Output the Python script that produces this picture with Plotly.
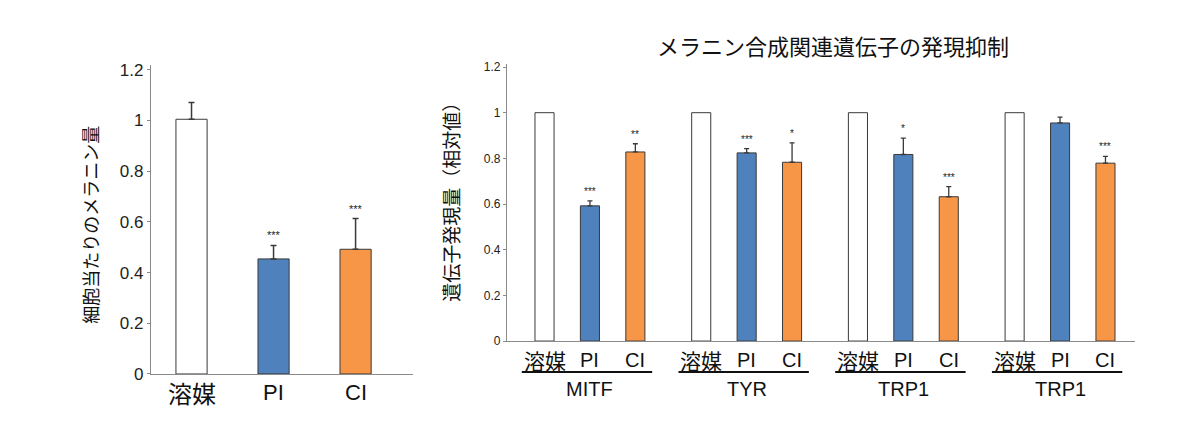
import plotly.graph_objects as go

W, H = 1200, 445

# ---------------- data ----------------
treatments = ["溶媒", "PI", "CI"]
colors = ["#FFFFFF", "#4F81BD", "#F79646"]

# left chart: melanin per cell
melanin = [1.005, 0.454, 0.492]
melanin_err = [0.066, 0.053, 0.121]
melanin_sig = ["", "***", "***"]

# right chart: gene expression (relative)
genes = ["MITF", "TYR", "TRP1", "TRP1"]
expr_vehicle = [1.0, 1.0, 1.0, 1.0]
expr_pi = [0.592, 0.824, 0.817, 0.955]
expr_ci = [0.828, 0.783, 0.632, 0.779]
err_vehicle = [0, 0, 0, 0]
err_pi = [0.022, 0.019, 0.072, 0.026]
err_ci = [0.036, 0.085, 0.044, 0.030]
sig_vehicle = ["", "", "", ""]
sig_pi = ["***", "***", "*", ""]
sig_ci = ["**", "*", "***", "***"]

title = "メラニン合成関連遺伝子の発現抑制"
ytitle_left = "細胞当たりのメラニン量"
ytitle_right = "遺伝子発現量（相対値）"
yticks = [0, 0.2, 0.4, 0.6, 0.8, 1.0, 1.2]
yticktext = ["0", "0.2", "0.4", "0.6", "0.8", "1", "1.2"]

FONT = "Liberation Sans, Arial, Noto Sans CJK JP, sans-serif"
JFONT = "Noto Sans CJK JP, Liberation Sans, sans-serif"
EDGE = "#3a3a3a"
AX = "#8a8a8a"

def py(pix):
    return (H - pix) / H

fig = go.Figure()

# ---------------- left chart ----------------
xl = list(range(len(treatments)))
for i, t in enumerate(treatments):
    fig.add_trace(go.Bar(
        x=[xl[i]], y=[melanin[i]], width=0.38,
        marker=dict(color=colors[i], line=dict(color=EDGE, width=1)),
        error_y=dict(type="data", symmetric=False, array=[melanin_err[i]],
                     arrayminus=[0], color=EDGE, thickness=1.5, width=3),
        xaxis="x", yaxis="y", showlegend=False,
    ))
    if melanin_sig[i]:
        fig.add_annotation(x=xl[i], y=melanin[i] + melanin_err[i], xref="x", yref="y",
                           text=melanin_sig[i], showarrow=False, yanchor="bottom",
                           xanchor="center", yshift=2,
                           font=dict(size=11, color="#222", family=FONT))
    fig.add_annotation(x=xl[i], y=py(401), xref="x", yref="paper",
                       text=t, showarrow=False, yanchor="middle", xanchor="center",
                       font=dict(size=24 if i == 0 else 22, color="#111",
                                 family=JFONT if i == 0 else FONT))

# ---------------- right chart ----------------
group_step = 3.45
series = [
    (expr_vehicle, err_vehicle, sig_vehicle),
    (expr_pi, err_pi, sig_pi),
    (expr_ci, err_ci, sig_ci),
]
for i, (vals, errs, sigs) in enumerate(series):
    xs = [g * group_step + i for g in range(len(genes))]
    fig.add_trace(go.Bar(
        x=xs, y=vals, width=0.42,
        marker=dict(color=colors[i], line=dict(color=EDGE, width=1)),
        error_y=dict(type="data", symmetric=False, array=errs,
                     arrayminus=[0] * len(errs), color=EDGE, thickness=1.3, width=2.5,
                     visible=any(e > 0 for e in errs)),
        xaxis="x2", yaxis="y2", showlegend=False,
    ))
    for g in range(len(genes)):
        if sigs[g]:
            fig.add_annotation(x=xs[g], y=vals[g] + errs[g], xref="x2", yref="y2",
                               text=sigs[g], showarrow=False, yanchor="bottom",
                               xanchor="center", yshift=2,
                               font=dict(size=10, color="#222", family=FONT))
        fig.add_annotation(x=xs[g], y=py(368), xref="x2", yref="paper",
                           text=treatments[i], showarrow=False, yanchor="middle",
                           xanchor="center",
                           font=dict(size=21 if i == 0 else 20, color="#111",
                                     family=JFONT if i == 0 else FONT))

for g, gene in enumerate(genes):
    x0 = g * group_step - 0.5
    x1 = g * group_step + 2 + 0.37
    fig.add_shape(type="line", x0=x0, x1=x1, y0=py(380), y1=py(380),
                  xref="x2", yref="paper", line=dict(color="#111", width=2))
    fig.add_annotation(x=g * group_step + 1, y=py(398), xref="x2", yref="paper",
                       text=gene, showarrow=False, yanchor="middle", xanchor="center",
                       font=dict(size=20, color="#111", family=FONT))

# titles
fig.add_annotation(x=833 / W, y=py(42), xref="paper", yref="paper", text=title,
                   showarrow=False, xanchor="center", yanchor="middle",
                   font=dict(size=22, color="#111", family=JFONT))
fig.add_annotation(x=90 / W, y=py(228), xref="paper", yref="paper", text=ytitle_left,
                   textangle=-90, showarrow=False, xanchor="center", yanchor="middle",
                   font=dict(size=18, color="#111", family=JFONT))
fig.add_annotation(x=451 / W, y=py(200), xref="paper", yref="paper", text=ytitle_right,
                   textangle=-90, showarrow=False, xanchor="center", yanchor="middle",
                   font=dict(size=19, color="#111", family=JFONT))

axis_common = dict(showgrid=False, zeroline=False, showline=True, linecolor=AX,
                   linewidth=1.2, fixedrange=True)

fig.update_layout(
    width=W, height=H, margin=dict(l=0, r=0, t=0, b=0),
    paper_bgcolor="white", plot_bgcolor="white",
    barmode="overlay",
    xaxis=dict(domain=[151 / W, 413 / W], range=[-0.494, 2.70],
               showticklabels=False, ticks="", anchor="y", **axis_common),
    yaxis=dict(domain=[py(382), py(63)], range=[0, 1.219], anchor="x",
               tickvals=yticks, ticktext=yticktext, ticks="outside", ticklen=3,
               tickcolor=AX, tickfont=dict(size=17, color="#222", family=FONT),
               **axis_common),
    xaxis2=dict(domain=[507 / W, 1135 / W], range=[-0.826, 13.0],
                showticklabels=False, ticks="", anchor="y2", **axis_common),
    yaxis2=dict(domain=[py(348), py(62)], range=[0, 1.213], anchor="x2",
                tickvals=yticks, ticktext=yticktext, ticks="outside", ticklen=3,
                tickcolor=AX, tickfont=dict(size=12, color="#222", family=FONT),
                **axis_common),
)

fig.write_html("out.html")
